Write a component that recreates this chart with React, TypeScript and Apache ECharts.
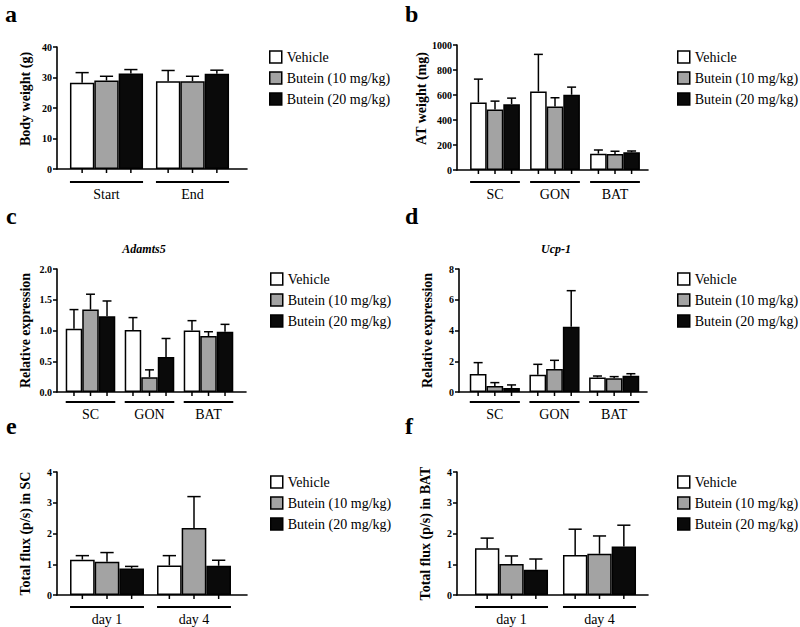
import React, { useEffect, useRef } from "react";
import * as echarts from "echarts";

const FONT = "'Liberation Serif', 'Times New Roman', serif";
const seriesNames = ["Vehicle", "Butein (10 mg/kg)", "Butein (20 mg/kg)"];
const seriesColors = ["#ffffff", "#a3a3a3", "#0a0a0a"];

// Panel a: body weight (g)
const aCats = ["Start", "End"];
const aMean = [[28.3, 28.8], [29.0, 28.8], [31.3, 31.2]];
const aErr = [[3.3, 3.5], [1.4, 1.6], [1.3, 1.2]];
// Panel b: AT weight (mg)
const bCats = ["SC", "GON", "BAT"];
const bMean = [[540, 628, 131], [484, 508, 128], [527, 602, 142]];
const bErr = [[187, 297, 29], [67, 70, 22], [48, 61, 10]];
// Panel c: Adamts5 relative expression
const cCats = ["SC", "GON", "BAT"];
const cMean = [[1.03, 1.01, 1.0], [1.34, 0.24, 0.91], [1.23, 0.57, 0.98]];
const cErr = [[0.31, 0.2, 0.16], [0.25, 0.12, 0.07], [0.25, 0.3, 0.12]];
// Panel d: Ucp-1 relative expression
const dCats = ["SC", "GON", "BAT"];
const dMean = [[1.17, 1.13, 0.95], [0.39, 1.5, 0.89], [0.26, 4.25, 1.06]];
const dErr = [[0.74, 0.67, 0.09], [0.22, 0.56, 0.11], [0.2, 2.34, 0.13]];
// Panel e: total flux in SC
const eCats = ["day 1", "day 4"];
const eMean = [[1.15, 0.96], [1.08, 2.18], [0.86, 0.95]];
const eErr = [[0.13, 0.32], [0.3, 1.02], [0.07, 0.18]];
// Panel f: total flux in BAT
const fCats = ["day 1", "day 4"];
const fMean = [[1.52, 1.3], [1.01, 1.34], [0.82, 1.58]];
const fErr = [[0.33, 0.84], [0.26, 0.58], [0.35, 0.69]];

type Panel = {
  cats: string[]; mean: number[][]; err: number[][];
  yName: string; max: number; interval: number; dec: number;
  axisX: number; axisEnd: number; top: number; y0: number;
  bandL: number; bandR: number; frac: number; underOff: number;
  legendLeft: number; legendTop: number; namePad: number;
};

const panels: Panel[] = [
  { cats: aCats, mean: aMean, err: aErr, yName: "Body weight (g)", max: 40, interval: 10, dec: 0,
    axisX: 57, axisEnd: 247, top: 47, y0: 169, bandL: 63.5, bandR: 235.5, frac: 0.85, underOff: 13,
    legendLeft: 269, legendTop: 50, namePad: 18 },
  { cats: bCats, mean: bMean, err: bErr, yName: "AT weight (mg)", max: 1000, interval: 200, dec: 0,
    axisX: 457, axisEnd: 648, top: 45, y0: 170, bandL: 465, bandR: 645, frac: 0.83, underOff: 12,
    legendLeft: 677, legendTop: 50, namePad: 18 },
  { cats: cCats, mean: cMean, err: cErr, yName: "Relative expression", max: 2, interval: 0.5, dec: 1,
    axisX: 57, axisEnd: 246, top: 269, y0: 392, bandL: 61, bandR: 238, frac: 0.84, underOff: 10,
    legendLeft: 270, legendTop: 272, namePad: 0 },
  { cats: dCats, mean: dMean, err: dErr, yName: "Relative expression", max: 8, interval: 2, dec: 0,
    axisX: 459, axisEnd: 647, top: 269, y0: 392, bandL: 465, bandR: 644, frac: 0.84, underOff: 10,
    legendLeft: 677, legendTop: 272, namePad: 0 },
  { cats: eCats, mean: eMean, err: eErr, yName: "Total flux (p/s) in SC", max: 4, interval: 1, dec: 0,
    axisX: 57, axisEnd: 247, top: 472, y0: 595, bandL: 63.5, bandR: 237.5, frac: 0.85, underOff: 12,
    legendLeft: 270, legendTop: 475, namePad: 0 },
  { cats: fCats, mean: fMean, err: fErr, yName: "Total flux (p/s) in BAT", max: 4, interval: 1, dec: 0,
    axisX: 457, axisEnd: 648, top: 472, y0: 595, bandL: 467.5, bandR: 643.5, frac: 0.83, underOff: 12,
    legendLeft: 677, legendTop: 475, namePad: 0 },
];

const letters = [
  { t: "a", x: 5, y: 14 }, { t: "b", x: 405, y: 14 },
  { t: "c", x: 6, y: 216 }, { t: "d", x: 405, y: 216 },
  { t: "e", x: 6, y: 426 }, { t: "f", x: 405, y: 426 },
];
const geneTitles = [
  { t: "Adamts5", x: 144, y: 249 },
  { t: "Ucp-1", x: 556, y: 249 },
];

function buildOption() {
  const grid: any[] = [];
  const xAxis: any[] = [];
  const yAxis: any[] = [];
  const series: any[] = [];
  const legend: any[] = [];

  panels.forEach((p, pi) => {
    const ga = pi * 2;
    const gb = pi * 2 + 1;
    const height = p.y0 - p.top;
    grid.push({ left: p.axisX, top: p.top, width: p.axisEnd - p.axisX, height, containLabel: false });
    grid.push({ left: p.bandL, top: p.top, width: p.bandR - p.bandL, height, containLabel: false });

    xAxis.push({
      gridIndex: ga, type: "value", min: 0, max: 1,
      axisLine: { show: true, lineStyle: { color: "#000", width: 1.6 } },
      axisTick: { show: false }, axisLabel: { show: false }, splitLine: { show: false },
    });
    xAxis.push({
      gridIndex: gb, type: "category", data: p.cats,
      axisLine: { show: false }, axisTick: { show: false }, splitLine: { show: false },
      axisLabel: { show: true, margin: p.underOff + 5, color: "#000", fontFamily: FONT, fontSize: 14 },
    });
    yAxis.push({
      gridIndex: ga, type: "value", min: 0, max: p.max, interval: p.interval,
      name: p.yName, nameLocation: "middle", nameGap: 25,
      nameTextStyle: { color: "#000", fontFamily: FONT, fontSize: 14, fontWeight: "bold", padding: [0, 0, 0, p.namePad] },
      axisLine: { show: true, lineStyle: { color: "#000", width: 1.6 } },
      axisTick: { show: true, length: 4, lineStyle: { color: "#000", width: 1.5 } },
      axisLabel: {
        color: "#000", fontFamily: FONT, fontSize: 10, fontWeight: "bold", margin: 5,
        formatter: (v: number) => v.toFixed(p.dec),
      },
      splitLine: { show: false },
    });
    yAxis.push({ gridIndex: gb, type: "value", min: 0, max: p.max, show: false });

    const nS = p.mean.length;
    p.mean.forEach((vals, si) => {
      series.push({
        type: "bar", name: seriesNames[si], xAxisIndex: gb, yAxisIndex: gb,
        data: vals, barGap: "0%", barCategoryGap: `${Math.round((1 - p.frac) * 100)}%`,
        itemStyle: { color: seriesColors[si], borderColor: "#000", borderWidth: 1.5 },
        emphasis: { disabled: true }, silent: true,
      });
    });
    p.mean.forEach((vals, si) => {
      series.push({
        type: "custom", name: seriesNames[si] + " err", xAxisIndex: gb, yAxisIndex: gb,
        clip: false, silent: true, z: 5,
        data: vals.map((v, ci) => [ci, v, p.err[si][ci]]),
        renderItem: (params: any, api: any) => {
          const ci = api.value(0);
          const v = api.value(1);
          const e = api.value(2);
          const band = api.size([1, 0])[0];
          const group = band * p.frac;
          const bw = group / nS;
          const cx = api.coord([ci, 0])[0] - group / 2 + bw * (si + 0.5);
          const y0 = api.coord([ci, 0])[1];
          const yTop = api.coord([ci, v])[1];
          const yErr = api.coord([ci, v + e])[1];
          const cap = bw * 0.27;
          const st = { stroke: "#000", lineWidth: 1.5 };
          return {
            type: "group",
            children: [
              { type: "line", shape: { x1: cx, y1: yTop, x2: cx, y2: yErr }, style: st },
              { type: "line", shape: { x1: cx - cap, y1: yErr, x2: cx + cap, y2: yErr }, style: st },
              { type: "line", shape: { x1: cx, y1: y0, x2: cx, y2: y0 + 4 }, style: st },
            ],
          };
        },
      });
    });
    series.push({
      type: "custom", name: "group line " + pi, xAxisIndex: gb, yAxisIndex: gb,
      clip: false, silent: true,
      data: p.cats.map((_, ci) => [ci, 0]),
      renderItem: (params: any, api: any) => {
        const ci = api.value(0);
        const band = api.size([1, 0])[0];
        const group = band * p.frac;
        const c = api.coord([ci, 0]);
        return {
          type: "line",
          shape: { x1: c[0] - group / 2, y1: c[1] + p.underOff, x2: c[0] + group / 2, y2: c[1] + p.underOff },
          style: { stroke: "#000", lineWidth: 2 },
        };
      },
    });

    legend.push({
      left: p.legendLeft, top: p.legendTop, orient: "vertical", padding: 0,
      data: seriesNames, selectedMode: false, icon: "rect",
      itemWidth: 12, itemHeight: 12, itemGap: 7,
      itemStyle: { borderColor: "#000", borderWidth: 1.5 },
      textStyle: { color: "#000", fontFamily: FONT, fontSize: 14, lineHeight: 14 },
    });
  });

  const graphic: any[] = [
    ...letters.map((l) => ({
      type: "text", x: l.x, y: l.y,
      style: { text: l.t, fill: "#000", fontFamily: FONT, fontSize: 24, fontWeight: "bold", align: "left", verticalAlign: "middle" },
    })),
    ...geneTitles.map((g) => ({
      type: "text", x: g.x, y: g.y,
      style: { text: g.t, fill: "#000", fontFamily: FONT, fontSize: 12, fontWeight: "bold", fontStyle: "italic", align: "center", verticalAlign: "middle" },
    })),
  ];

  return {
    animation: false,
    backgroundColor: "#ffffff",
    grid, xAxis, yAxis, series, legend, graphic,
  };
}

export default function App() {
  const ref = useRef<HTMLDivElement>(null);
  useEffect(() => {
    if (!ref.current) return;
    const chart = echarts.init(ref.current, null, { renderer: "svg" });
    chart.setOption(buildOption() as any);
    return () => chart.dispose();
  }, []);
  return (
    <div
      ref={ref}
      style={{ position: "absolute", left: 0, top: 0, width: 800, height: 627, background: "#fff" }}
    />
  );
}
